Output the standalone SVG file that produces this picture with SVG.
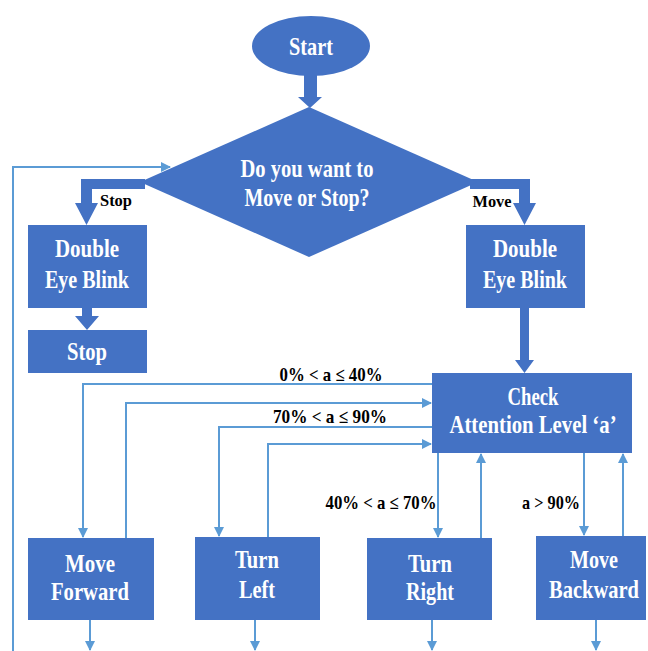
<svg xmlns="http://www.w3.org/2000/svg" width="648" height="651" viewBox="0 0 648 651">
<style>
.node{fill:#4472c4}
.thick{fill:#4472c4}
.t{font-family:"Liberation Serif","Times New Roman",serif;font-weight:bold;fill:#ffffff;text-anchor:middle;font-size:25px}
.lbl{font-family:"Liberation Serif","Times New Roman",serif;font-weight:bold;fill:#000000;text-anchor:middle;font-size:19px}
.sm{font-size:17px}
.ln{fill:none;stroke:#5b9bd5;stroke-width:2}
</style>
<defs>
<marker id="ah" viewBox="0 0 10 10" refX="9" refY="5" markerWidth="11" markerHeight="10" markerUnits="userSpaceOnUse" orient="auto">
<path d="M0,0 L10,5 L0,10 z" fill="#5b9bd5"/>
</marker>
</defs>
<rect width="648" height="651" fill="#ffffff"/>
<g id="connectors">
<path class="thick" d="M304,75 H317 V97 H322 L310,108 L298,97 H304 Z"/>
<path class="thick" d="M145,179 V189 H92 V203 H98 L86.5,225 L75,203 H81 V179 Z"/>
<path class="thick" d="M470,179 V189 H519 V203 H513 L524.5,225 L536,203 H530 V179 Z"/>
<path class="thick" d="M82,308 H92 V316 H99 L87,330 L75,316 H82 Z"/>
<path class="thick" d="M520,308 H529 V360 H534 L524.5,373 L515,360 H520 Z"/>
<path class="ln" d="M13,651 V167 H170" marker-end="url(#ah)"/>
<path class="ln" d="M432,384 H83 V537" marker-end="url(#ah)"/>
<path class="ln" d="M126,538 V403 H431" marker-end="url(#ah)"/>
<path class="ln" d="M432,427 H219 V536" marker-end="url(#ah)"/>
<path class="ln" d="M268,537 V444 H431" marker-end="url(#ah)"/>
<path class="ln" d="M438,453 V537" marker-end="url(#ah)"/>
<path class="ln" d="M481,538 V454" marker-end="url(#ah)"/>
<path class="ln" d="M584,453 V535" marker-end="url(#ah)"/>
<path class="ln" d="M623,536 V454" marker-end="url(#ah)"/>
<path class="ln" d="M90,620 V650" marker-end="url(#ah)"/>
<path class="ln" d="M255,620 V650" marker-end="url(#ah)"/>
<path class="ln" d="M432,620 V650" marker-end="url(#ah)"/>
<path class="ln" d="M596,620 V650" marker-end="url(#ah)"/>
<text class="lbl sm" x="116" y="206" textLength="32" lengthAdjust="spacingAndGlyphs">Stop</text>
<text class="lbl sm" x="492" y="207" textLength="39" lengthAdjust="spacingAndGlyphs">Move</text>
<text class="lbl" x="331" y="381" textLength="103" lengthAdjust="spacingAndGlyphs">0% &lt; a ≤ 40%</text>
<text class="lbl" x="330" y="423" textLength="114" lengthAdjust="spacingAndGlyphs">70% &lt; a ≤ 90%</text>
<text class="lbl" x="381" y="509" textLength="111" lengthAdjust="spacingAndGlyphs">40% &lt; a ≤ 70%</text>
<text class="lbl" x="551" y="509" textLength="58" lengthAdjust="spacingAndGlyphs">a &gt; 90%</text>
</g>
<g id="start">
<ellipse class="node" cx="311" cy="46" rx="59" ry="30"/>
<text class="t" x="311" y="55" font-size="23" textLength="44" lengthAdjust="spacingAndGlyphs">Start</text>
</g>
<g id="decision">
<polygon class="node" points="309,107 478,182 309,257 140,182"/>
<text class="t" x="307" y="177" textLength="133" lengthAdjust="spacingAndGlyphs">Do you want to</text>
<text class="t" x="307" y="206" textLength="125" lengthAdjust="spacingAndGlyphs">Move or Stop?</text>
</g>
<g id="blink-stop">
<rect class="node" x="28" y="225" width="119" height="83"/>
<text class="t" x="87" y="257" textLength="64" lengthAdjust="spacingAndGlyphs">Double</text>
<text class="t" x="87" y="288" textLength="84" lengthAdjust="spacingAndGlyphs">Eye Blink</text>
</g>
<g id="stop">
<rect class="node" x="28" y="330" width="119" height="43"/>
<text class="t" x="87" y="360" textLength="40" lengthAdjust="spacingAndGlyphs">Stop</text>
</g>
<g id="blink-move">
<rect class="node" x="466" y="225" width="119" height="83"/>
<text class="t" x="525" y="257" textLength="64" lengthAdjust="spacingAndGlyphs">Double</text>
<text class="t" x="525" y="288" textLength="84" lengthAdjust="spacingAndGlyphs">Eye Blink</text>
</g>
<g id="check">
<rect class="node" x="432" y="373" width="200" height="80"/>
<text class="t" x="533" y="405" textLength="51" lengthAdjust="spacingAndGlyphs">Check</text>
<text class="t" transform="translate(533,433) scale(0.83,1)" x="0" y="0" font-size="24">Attention Level ‘a’</text>
</g>
<g id="forward">
<rect class="node" x="28" y="538" width="126" height="82"/>
<text class="t" x="90" y="572" textLength="50" lengthAdjust="spacingAndGlyphs">Move</text>
<text class="t" x="90" y="600" textLength="78" lengthAdjust="spacingAndGlyphs">Forward</text>
</g>
<g id="left">
<rect class="node" x="195" y="537" width="125" height="83"/>
<text class="t" x="257" y="568" textLength="44" lengthAdjust="spacingAndGlyphs">Turn</text>
<text class="t" x="257" y="598" textLength="36" lengthAdjust="spacingAndGlyphs">Left</text>
</g>
<g id="right">
<rect class="node" x="367" y="538" width="125" height="82"/>
<text class="t" x="430" y="572" textLength="44" lengthAdjust="spacingAndGlyphs">Turn</text>
<text class="t" x="430" y="600" textLength="48" lengthAdjust="spacingAndGlyphs">Right</text>
</g>
<g id="backward">
<rect class="node" x="536" y="536" width="110" height="84"/>
<text class="t" x="594" y="568" textLength="48" lengthAdjust="spacingAndGlyphs">Move</text>
<text class="t" transform="translate(594,598) scale(0.82,1)" x="0" y="0" font-size="24">Backward</text>
</g>
</svg>
